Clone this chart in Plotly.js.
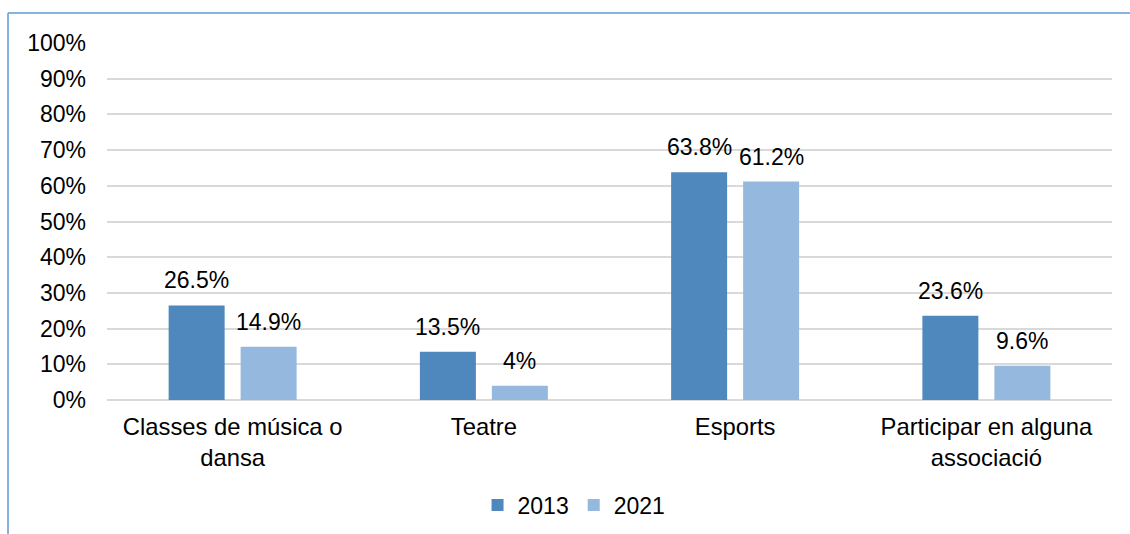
<!DOCTYPE html>
<html>
<head>
<meta charset="utf-8">
<script src="https://cdn.plot.ly/plotly-3.0.1.min.js"></script>
<style>html,body{margin:0;padding:0;background:#fff;}#chart{width:1130px;height:534px;}</style>
</head>
<body>
<div id="chart"></div>
<script>
const categories = ["Classes de música o<br>dansa", "Teatre", "Esports", "Participar en alguna<br>associació"];
const seriesNames = ["2013", "2021"];
const values2013 = [26.5, 13.5, 63.8, 23.6];
const values2021 = [14.9, 4, 61.2, 9.6];
const yTickVals = [0, 10, 20, 30, 40, 50, 60, 70, 80, 90, 100];

const colors = ["#4f88bc", "#95b8df"];
const FONT = "'Liberation Sans', Arial, sans-serif";
const FS = 23;

const traces = [values2013, values2021].map((vals, i) => ({
  type: "bar",
  name: seriesNames[i],
  x: categories,
  y: vals,
  marker: {color: colors[i]},
  hoverinfo: "none"
}));

const annotations = [];
[values2013, values2021].forEach((vals, i) => {
  vals.forEach((v, j) => {
    annotations.push({
      x: categories[j], y: v, xref: "x", yref: "y",
      text: v + "%", showarrow: false,
      xshift: i === 0 ? -36 : 36, yshift: 10,
      yanchor: "bottom", xanchor: "center",
      font: {family: FONT, size: FS, color: "#000"}
    });
  });
});

const shapes = [
  {type: "line", xref: "paper", yref: "paper", x0: -0.0985, x1: -0.0985, y0: 1.084, y1: -0.4, line: {color: "#5b9bd5", width: 1.5}},
  {type: "line", xref: "paper", yref: "paper", x0: -0.0985, x1: 1.03, y0: 1.084, y1: 1.084, line: {color: "#5b9bd5", width: 1.5}}
];

const layout = {
  width: 1130, height: 534,
  margin: {l: 107, r: 18, t: 43, b: 134},
  paper_bgcolor: "#fff", plot_bgcolor: "#fff",
  font: {family: FONT, size: FS, color: "#000"},
  barmode: "group", bargap: 0.427, bargroupgap: 0.222,
  showlegend: true,
  legend: {orientation: "h", xref: "container", yref: "container", x: 0.508, xanchor: "center", y: 0.0543, yanchor: "middle",
           font: {family: FONT, size: FS, color: "#000"}, itemwidth: 30, traceorder: "normal"},
  xaxis: {type: "category", automargin: false, showgrid: false, showline: false, ticks: "", tickfont: {family: FONT, size: 23.8, color: "#000"}, ticklabelstandoff: 10},
  yaxis: {range: [0, 100], automargin: false, tickvals: yTickVals, ticktext: yTickVals.map(v => v + "%"), showgrid: true, gridcolor: "#d9d9d9", gridwidth: 2,
          zeroline: true, zerolinecolor: "#d9d9d9", zerolinewidth: 2, showline: false, ticks: "", ticklabelstandoff: 20,
          tickfont: {family: FONT, size: FS, color: "#000"}},
  annotations: annotations,
  shapes: shapes
};

Plotly.newPlot("chart", traces, layout, {displayModeBar: false, staticPlot: true});
</script>
</body>
</html>
